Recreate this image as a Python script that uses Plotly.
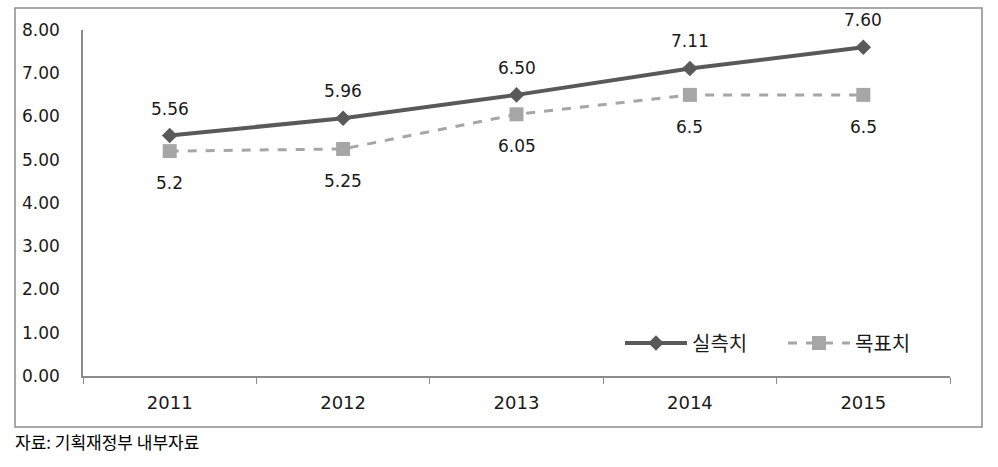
import plotly.graph_objects as go

years = ["2011", "2012", "2013", "2014", "2015"]
actual = [5.56, 5.96, 6.50, 7.11, 7.60]
actual_labels = ["5.56", "5.96", "6.50", "7.11", "7.60"]
target = [5.2, 5.25, 6.05, 6.5, 6.5]
target_labels = ["5.2", "5.25", "6.05", "6.5", "6.5"]
y_ticks = [0, 1, 2, 3, 4, 5, 6, 7, 8]
y_tick_text = ["0.00", "1.00", "2.00", "3.00", "4.00", "5.00", "6.00", "7.00", "8.00"]

W, H = 998, 467
L, R, T, B = 83, 48, 30, 91
pw, ph = W - L - R, H - T - B

def px(x):
    return (x - L) / pw

def py(y):
    return (H - B - y) / ph

FONT = "DejaVu Sans"

fig = go.Figure()
fig.add_trace(go.Scatter(
    x=years, y=actual, name="실측치", mode="lines+markers",
    line=dict(color="#595959", width=4),
    marker=dict(symbol="diamond", size=12, color="#595959"),
))
fig.add_trace(go.Scatter(
    x=years, y=target, name="목표치", mode="lines+markers",
    line=dict(color="#A6A6A6", width=3, dash="dash"),
    marker=dict(symbol="square", size=14, color="#A6A6A6"),
))

lab_font = dict(family=FONT, size=17, color="#1a1a1a")
for i, (yv, t) in enumerate(zip(actual, actual_labels)):
    fig.add_annotation(x=i, y=yv, text=t, showarrow=False, yshift=27, font=lab_font)
for i, (yv, t) in enumerate(zip(target, target_labels)):
    fig.add_annotation(x=i, y=yv, text=t, showarrow=False, yshift=-32, font=lab_font)

fig.add_annotation(
    xref="paper", yref="paper", x=px(13), y=py(441), xanchor="left", yanchor="middle",
    text="자료: 기획재정부 내부자료", showarrow=False,
    font=dict(family="Noto Sans CJK KR", size=17, color="#000000"),
)

fig.add_shape(
    type="rect", xref="paper", yref="paper",
    x0=px(15), x1=px(982), y0=py(427), y1=py(8),
    line=dict(color="#8c8c8c", width=1.5), fillcolor="rgba(0,0,0,0)", layer="below",
)

fig.update_layout(
    width=W, height=H,
    margin=dict(l=L, r=R, t=T, b=B),
    paper_bgcolor="white", plot_bgcolor="white",
    showlegend=True,
    legend=dict(
        orientation="h", x=px(620), xanchor="left", y=py(343), yanchor="middle",
        font=dict(family="Noto Sans CJK KR", size=20, color="#1a1a1a"),
        bgcolor="rgba(0,0,0,0)", itemwidth=62, entrywidth=86,
    ),
    font=dict(family=FONT),
)
fig.update_xaxes(
    type="category", showgrid=False, showline=True, linecolor="#8c8c8c", linewidth=1.5,
    ticks="outside", tickson="boundaries", ticklen=6, tickcolor="#8c8c8c",
    ticklabelstandoff=10,
    tickfont=dict(family=FONT, size=18, color="#1a1a1a"),
    range=[-0.5, 4.5], fixedrange=True,
)
fig.update_yaxes(
    range=[0, 8], tickvals=y_ticks, ticktext=y_tick_text, showgrid=False,
    showline=True, linecolor="#8c8c8c", linewidth=1.5, ticks="", zeroline=False,
    ticklabelstandoff=18,
    tickfont=dict(family=FONT, size=17, color="#1a1a1a"),
)

fig.write_html("out.html")
